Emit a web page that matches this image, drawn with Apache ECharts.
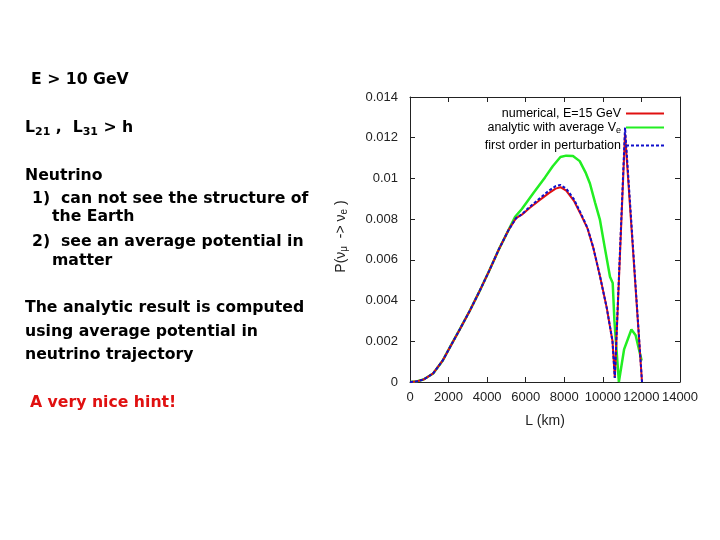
<!DOCTYPE html>
<html>
<head>
<meta charset="utf-8">
<script src="https://cdn.jsdelivr.net/npm/echarts@6/dist/echarts.min.js"></script>
<style>
  html, body { margin: 0; padding: 0; background: #fff; }
  #chart { width: 720px; height: 540px; }
</style>
</head>
<body>
<div id="chart"></div>
<script>
// L (km) and P(nu_mu -> nu_e)
var numL = [0, 300, 700, 1200, 1700, 2100, 2600, 3100, 3600, 4100, 4600, 5100, 5500, 5800, 6200, 6700, 7200, 7550, 7800, 8100, 8500, 8900, 9200, 9500, 9850, 10200, 10500, 10620, 11150, 12030]
var numP = [0, 0.00002, 0.00012, 0.00042, 0.00106, 0.00176, 0.00262, 0.0035, 0.00445, 0.00545, 0.0065, 0.00745, 0.00805, 0.00822, 0.00855, 0.00892, 0.00928, 0.0095, 0.00957, 0.0094, 0.0089, 0.00815, 0.00755, 0.0066, 0.0052, 0.00365, 0.002, 0.0002, 0.0122, 0]
var pertL = [0, 300, 700, 1200, 1700, 2100, 2600, 3100, 3600, 4100, 4600, 5100, 5500, 5800, 6200, 6700, 7200, 7550, 7800, 8100, 8500, 8900, 9200, 9500, 9850, 10200, 10500, 10620, 11150, 12030]
var pertP = [0, 0.00002, 0.00012, 0.00042, 0.00106, 0.00176, 0.00262, 0.0035, 0.00445, 0.00545, 0.0065, 0.00745, 0.00805, 0.00824, 0.0086, 0.009, 0.0094, 0.00962, 0.00968, 0.0095, 0.00898, 0.0082, 0.00758, 0.00662, 0.0052, 0.00365, 0.002, 0.0002, 0.0125, 0]
var avgL = [0, 300, 700, 1200, 1700, 2100, 2600, 3100, 3600, 4100, 4600, 5100, 5450, 5800, 6400, 7000, 7400, 7800, 8100, 8450, 8800, 9100, 9330, 9600, 9850, 10100, 10370, 10510, 10600, 10830, 11100, 11480, 11700, 12010]
var avgP = [0, 0.00002, 0.00012, 0.00042, 0.00106, 0.00176, 0.00262, 0.0035, 0.00445, 0.00545, 0.0065, 0.00745, 0.00812, 0.0085, 0.00928, 0.01005, 0.0106, 0.01105, 0.01112, 0.0111, 0.01085, 0.0103, 0.00975, 0.0088, 0.00796, 0.0066, 0.00517, 0.00486, 0.003, 0, 0.0016, 0.00258, 0.0023, 0.00105]

var xTicks = { min: 0, max: 14000, interval: 2000 }
var yTicks = { min: 0, max: 0.014, interval: 0.002 }

function pairs(xs, ys) {
  return xs.map(function (x, i) { return [x, ys[i]] })
}

var axisFont = 'Liberation Sans'
var textFont = '"DejaVu Sans"'
var bodyFont = 'bold 15.7px ' + textFont

var chart = echarts.init(document.getElementById('chart'))

/* 一条图例一个组件，右对齐线段 */
function legendAt(name, top) {
  return {
    data: [name],
    right: 55,
    top: top,
    padding: 0,
    align: 'right',
    itemWidth: 38,
    itemHeight: 12,
    itemGap: 0,
    itemStyle: { opacity: 0 }, // 只要线，不要圆点
    textStyle: {
      fontFamily: axisFont,
      fontSize: 12.5,
      color: '#000',
      rich: {
        n: { fontFamily: axisFont, fontSize: 12.5, color: '#000' },
        s: { fontFamily: axisFont, fontSize: 9, color: '#000', verticalAlign: 'bottom', padding: [6, 0, 0, 0] }
      }
    },
    formatter: function (n) {
      if (n === 'avg') return '{n|analytic with average V}{s|e}'
      if (n === 'num') return 'numerical, E=15 GeV'
      return 'first order in perturbation'
    }
  }
}

var boxAxis = {
  axisLine: { show: true, onZero: false, lineStyle: { color: '#222', width: 1 } },
  axisTick: { show: true, inside: true, length: 5, lineStyle: { color: '#222' } },
  splitLine: { show: false }
}

var option = {
  backgroundColor: '#fff',
  animation: false,
  grid: { left: 410, right: 40, top: 97, bottom: 158 },
  legend: [legendAt('num', 107), legendAt('avg', 121), legendAt('pert', 139)],
  xAxis: [
    Object.assign({
      type: 'value',
      min: xTicks.min, max: xTicks.max, interval: xTicks.interval,
      name: 'L (km)',
      nameLocation: 'middle',
      nameGap: 32,
      nameTextStyle: { fontFamily: axisFont, fontSize: 14, color: '#222' },
      axisLabel: { fontFamily: axisFont, fontSize: 13, color: '#222', margin: 9, formatter: function (v) { return String(v) } }
    }, boxAxis),
    Object.assign({
      type: 'value', position: 'top',
      min: xTicks.min, max: xTicks.max, interval: xTicks.interval,
      axisLabel: { show: false }
    }, boxAxis)
  ],
  yAxis: [
    Object.assign({
      type: 'value',
      min: yTicks.min, max: yTicks.max, interval: yTicks.interval,
      name: '{n|P(ν}{s|μ}{n|  -> ν}{s|e}{n| )}',
      nameLocation: 'middle',
      nameRotate: 90,
      nameGap: 61,
      nameTextStyle: {
        color: '#222',
        padding: [0, 0, 0, 6],
        rich: {
          n: { fontFamily: axisFont, fontSize: 14, color: '#222' },
          s: { fontFamily: axisFont, fontSize: 10, color: '#222', verticalAlign: 'bottom', padding: [6, 0, 0, 0] }
        }
      },
      axisLabel: { fontFamily: axisFont, fontSize: 13, color: '#222', margin: 12, formatter: function (v) { return String(v) } }
    }, boxAxis),
    Object.assign({
      type: 'value', position: 'right',
      min: yTicks.min, max: yTicks.max, interval: yTicks.interval,
      axisLabel: { show: false }
    }, boxAxis)
  ],
  series: [
    {
      name: 'avg', type: 'line', symbol: 'none', z: 2,
      data: pairs(avgL, avgP),
      lineStyle: { color: '#22ee22', width: 2.5 },
      itemStyle: { color: '#22ee22' }
    },
    {
      name: 'num', type: 'line', symbol: 'none', z: 3,
      data: pairs(numL, numP),
      lineStyle: { color: '#e01010', width: 2 },
      itemStyle: { color: '#e01010' }
    },
    {
      name: 'pert', type: 'line', symbol: 'none', z: 4,
      data: pairs(pertL, pertP),
      lineStyle: { color: '#1010cc', width: 2, type: [3, 2] },
      itemStyle: { color: '#1010cc' }
    }
  ],
  graphic: [
    { type: 'text', style: { x: 31, y: 80, text: 'E > 10 GeV', font: bodyFont, fill: '#000', verticalAlign: 'middle' } },
    { type: 'text', style: {
        x: 25, y: 128, verticalAlign: 'middle',
        text: '{a|L}{s|21}{a| ,  L}{s|31}{a| > h}',
        rich: {
          a: { fontFamily: textFont, fontWeight: 'bold', fontSize: 15.7, color: '#000' },
          s: { fontFamily: textFont, fontWeight: 'bold', fontSize: 11, color: '#000', verticalAlign: 'bottom', padding: [8, 0, 0, 0] }
        }
    } },
    { type: 'text', style: { x: 25, y: 176, text: 'Neutrino', font: bodyFont, fill: '#000', verticalAlign: 'middle' } },
    { type: 'text', style: { x: 32, y: 199, text: '1)  can not see the structure of', font: bodyFont, fill: '#000', verticalAlign: 'middle' } },
    { type: 'text', style: { x: 52, y: 217, text: 'the Earth', font: bodyFont, fill: '#000', verticalAlign: 'middle' } },
    { type: 'text', style: { x: 32, y: 242, text: '2)  see an average potential in', font: bodyFont, fill: '#000', verticalAlign: 'middle' } },
    { type: 'text', style: { x: 52, y: 261, text: 'matter', font: bodyFont, fill: '#000', verticalAlign: 'middle' } },
    { type: 'text', style: { x: 25, y: 308, text: 'The analytic result is computed', font: bodyFont, fill: '#000', verticalAlign: 'middle' } },
    { type: 'text', style: { x: 25, y: 332, text: 'using average potential in', font: bodyFont, fill: '#000', verticalAlign: 'middle' } },
    { type: 'text', style: { x: 25, y: 355, text: 'neutrino trajectory', font: bodyFont, fill: '#000', verticalAlign: 'middle' } },
    { type: 'text', style: { x: 30, y: 403, text: 'A very nice hint!', font: bodyFont, fill: '#e01010', verticalAlign: 'middle' } }
  ]
}

chart.setOption(option)
</script>
</body>
</html>
